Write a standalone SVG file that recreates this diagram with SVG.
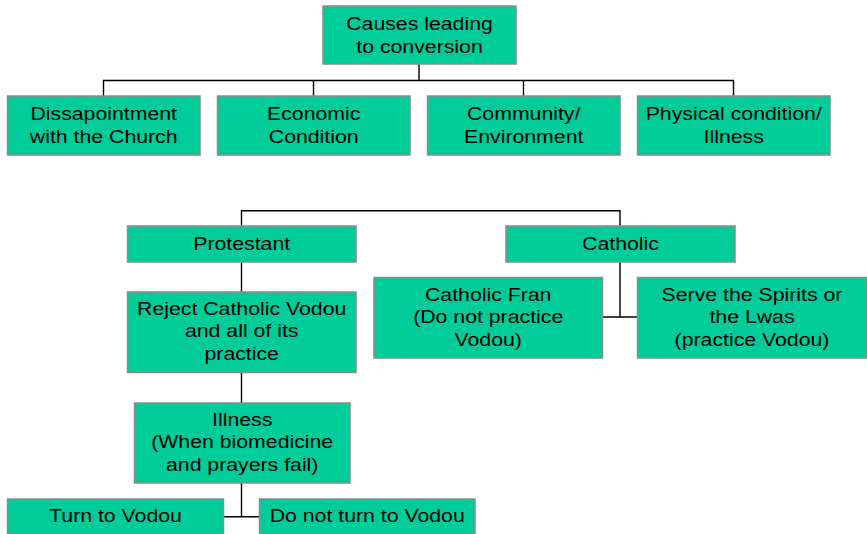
<svg xmlns="http://www.w3.org/2000/svg" width="867" height="534" viewBox="0 0 867 534">
<style>
.box{fill:#00CC99;stroke:#8C8C8C;stroke-width:1.5}
.t{font-family:"Liberation Sans",Arial,sans-serif;font-size:18.5px;fill:#000;text-anchor:middle}
.c{fill:none;stroke:#000;stroke-width:1.4}
</style>
<rect width="867" height="534" fill="#fff"/>
<g id="connectors">
<path class="c" d="M419,64V80.5M103.5,96V80.5H733.5V96M313.5,80.5V96M523.5,80.5V96"/>
<path class="c" d="M241.5,226V210.7H620V226"/>
<path class="c" d="M241.5,262V292M241.5,372V403M241.5,483V516.7M223,516.7H259"/>
<path class="c" d="M620,262V317M603,317H637"/>
</g>
<g id="n-causes"><rect class="box" x="323" y="6" width="193" height="58"/>
<text class="t" transform="matrix(1.15 0 0 1 419.5 0)"><tspan x="0" y="30">Causes leading</tspan><tspan x="0" y="53.3">to conversion</tspan></text></g>
<g id="n-dis"><rect class="box" x="7.5" y="96" width="192.5" height="59"/>
<text class="t" transform="matrix(1.15 0 0 1 103.7 0)"><tspan x="0" y="120">Dissapointment</tspan><tspan x="0" y="143.3">with the Church</tspan></text></g>
<g id="n-eco"><rect class="box" x="217.5" y="96" width="192.5" height="59"/>
<text class="t" transform="matrix(1.15 0 0 1 313.7 0)"><tspan x="0" y="120">Economic</tspan><tspan x="0" y="143.3">Condition</tspan></text></g>
<g id="n-com"><rect class="box" x="427.5" y="96" width="192.5" height="59"/>
<text class="t" transform="matrix(1.15 0 0 1 523.7 0)"><tspan x="0" y="120">Community/</tspan><tspan x="0" y="143.3">Environment</tspan></text></g>
<g id="n-phy"><rect class="box" x="637.5" y="96" width="192.5" height="59"/>
<text class="t" transform="matrix(1.15 0 0 1 733.7 0)"><tspan x="0" y="120">Physical condition/</tspan><tspan x="0" y="143.3">Illness</tspan></text></g>
<g id="n-prot"><rect class="box" x="127.5" y="226" width="228.5" height="36"/>
<text class="t" transform="matrix(1.15 0 0 1 241.7 0)"><tspan x="0" y="250">Protestant</tspan></text></g>
<g id="n-cath"><rect class="box" x="506" y="226" width="229" height="36"/>
<text class="t" transform="matrix(1.15 0 0 1 620.5 0)"><tspan x="0" y="250">Catholic</tspan></text></g>
<g id="n-reject"><rect class="box" x="127.5" y="292" width="228.5" height="80.5"/>
<text class="t" transform="matrix(1.15 0 0 1 241.7 0)"><tspan x="0" y="315">Reject Catholic Vodou</tspan><tspan x="0" y="337.5">and all of its</tspan><tspan x="0" y="360">practice</tspan></text></g>
<g id="n-fran"><rect class="box" x="374" y="277.5" width="228.5" height="80.5"/>
<text class="t" transform="matrix(1.15 0 0 1 488.2 0)"><tspan x="0" y="301">Catholic Fran</tspan><tspan x="0" y="323.3">(Do not practice</tspan><tspan x="0" y="345.7">Vodou)</tspan></text></g>
<g id="n-serve"><rect class="box" x="637.5" y="277.5" width="229" height="80.5"/>
<text class="t" transform="matrix(1.15 0 0 1 752 0)"><tspan x="0" y="301">Serve the Spirits or</tspan><tspan x="0" y="323.3">the Lwas</tspan><tspan x="0" y="345.7">(practice Vodou)</tspan></text></g>
<g id="n-ill"><rect class="box" x="134.5" y="403" width="215.5" height="80"/>
<text class="t" transform="matrix(1.15 0 0 1 242.2 0)"><tspan x="0" y="426">Illness</tspan><tspan x="0" y="448.3">(When biomedicine</tspan><tspan x="0" y="470.7">and prayers fail)</tspan></text></g>
<g id="n-turn"><rect class="box" x="7.5" y="499" width="216" height="35"/>
<text class="t" transform="matrix(1.15 0 0 1 115.5 0)"><tspan x="0" y="522.3">Turn to Vodou</tspan></text></g>
<g id="n-noturn"><rect class="box" x="259.5" y="499" width="215.5" height="35"/>
<text class="t" transform="matrix(1.15 0 0 1 367.2 0)"><tspan x="0" y="522.3">Do not turn to Vodou</tspan></text></g>
</svg>
